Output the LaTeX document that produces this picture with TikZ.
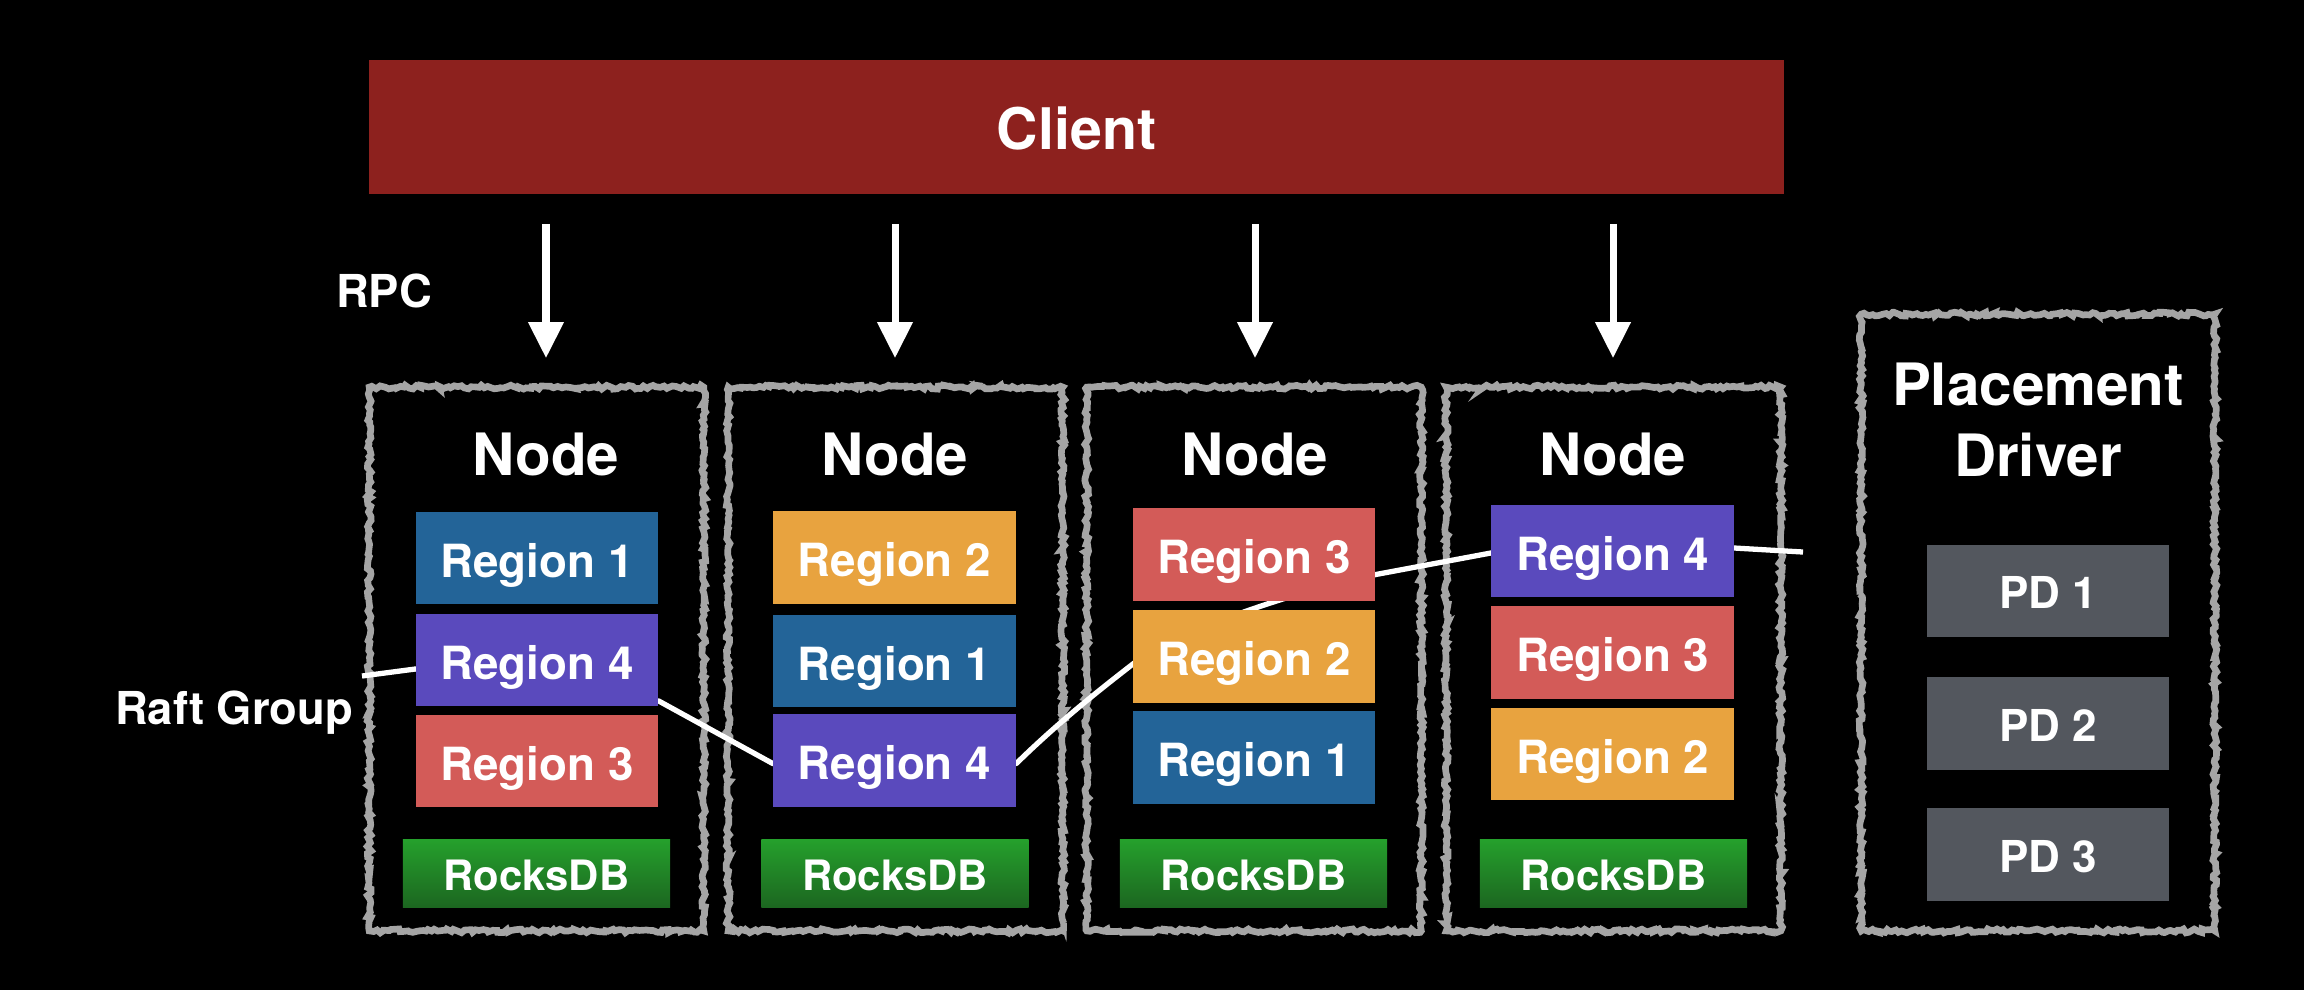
\documentclass[tikz,border=0pt]{standalone}
\usepackage{fontspec}
\setmainfont{TeX Gyre Heros}
\usetikzlibrary{arrows.meta,calc,decorations.pathmorphing}
\definecolor{clientred}{HTML}{8D211E}
\definecolor{rblue}{HTML}{236498}
\definecolor{rpurple}{HTML}{5A4ABD}
\definecolor{rred}{HTML}{D35B58}
\definecolor{rorange}{HTML}{E8A33F}
\definecolor{rgtop}{HTML}{25A02C}
\definecolor{rgbot}{HTML}{1C6620}
\definecolor{pdgray}{HTML}{53575E}
\definecolor{bordergray}{HTML}{A5A5A5}
\pgfdeclarelayer{background}
\pgfdeclarelayer{lines}
\pgfsetlayers{background,lines,main}
\tikzset{
  box/.style={inner sep=0pt, text=white, text height=0.38cm, text depth=0pt,
    font=\bfseries\fontsize{13}{15}\selectfont, minimum width=2.42cm, minimum height=0.92cm},
  reg1/.style={box, fill=rblue},
  reg2/.style={box, fill=rorange},
  reg3/.style={box, fill=rred},
  reg4/.style={box, fill=rpurple},
  rocks/.style={box, minimum width=2.67cm, minimum height=0.68cm, top color=rgtop, bottom color=rgbot,
    text height=0.34cm, font=\bfseries\fontsize{11.9}{14}\selectfont},
  pdbox/.style={box, fill=pdgray, text height=0.35cm, font=\bfseries\fontsize{12.5}{14}\selectfont},
  clientbox/.style={box, fill=clientred, minimum width=14.15cm, minimum height=1.34cm,
    text height=0.45cm, font=\bfseries\fontsize{16.3}{19}\selectfont},
  nframe/.style={inner sep=0pt, minimum width=3.33cm, minimum height=5.42cm},
  sketch/.style={draw=bordergray, line width=1.9pt, decorate,
    decoration={random steps, segment length=0.9pt, amplitude=0.55pt}},
  ttl/.style={text=white, font=\bfseries\fontsize{16.6}{19.9}\selectfont, anchor=base, inner sep=0pt},
  lbl/.style={text=white, font=\bfseries\fontsize{12.9}{15}\selectfont, anchor=base, inner sep=0pt},
  rpcarrow/.style={draw=white, line width=2pt, -{Triangle[width=0.34cm,length=0.36cm]},
    shorten <=0.29cm, shorten >=0.29cm},
  raft/.style={draw=white, line width=1.5pt, line join=round},
}
\pgfmathsetseed{7}
\begin{document}
\begin{tikzpicture}[x=0.01cm,y=-0.01cm]
\useasboundingbox (0,0) rectangle (2304,990);

% client
\node[clientbox] (client) at (1076.5,127) {Client};

% frames
\node[nframe] (b1) at (536.5,659) {};
\node[nframe] (b2) at (895.5,659) {};
\node[nframe] (b3) at (1254,659) {};
\node[nframe] (b4) at (1613.5,659) {};
\node[nframe, minimum width=3.52cm, minimum height=6.15cm] (pdb) at (2038,622.5) {};

% titles
\node[ttl] (t1) at (546,475) {Node};
\node[ttl] (t2) at (895,475) {Node};
\node[ttl] (t3) at (1255,475) {Node};
\node[ttl] (t4) at (1613,475) {Node};
\node[ttl] (tp1) at (2038,405) {Placement};
\node[ttl] (tp2) at (2038,476) {Driver};

% labels
\node[lbl] (rpc) at (384,307) {RPC};
\node[lbl] (raftlbl) at (234,724) {Raft Group};

% regions
\node[reg1] (r11) at (537,558) {Region 1};
\node[reg4] (r14) at (537,660) {Region 4};
\node[reg3] (r13) at (537,761) {Region 3};

\node[reg2] (r22) at (894.5,557.5) {Region 2};
\node[reg1] (r21) at (894.5,661) {Region 1};
\node[reg4] (r24) at (894.5,760.5) {Region 4};

\node[reg3] (r33) at (1254,554.5) {Region 3};
\node[reg2] (r32) at (1254,656.5) {Region 2};
\node[reg1] (r31) at (1254,757.5) {Region 1};

\node[reg4] (r44) at (1612.5,551) {Region 4};
\node[reg3] (r43) at (1612.5,652.5) {Region 3};
\node[reg2] (r42) at (1612.5,754) {Region 2};

% rocksdb
\node[rocks] (db1) at (536.5,873.5) {RocksDB};
\node[rocks] (db2) at (895,873.5) {RocksDB};
\node[rocks] (db3) at (1253.5,873.5) {RocksDB};
\node[rocks] (db4) at (1613.5,873.5) {RocksDB};

% placement driver
\node[pdbox] (pd1) at (2048,591) {PD 1};
\node[pdbox] (pd2) at (2048,723.5) {PD 2};
\node[pdbox] (pd3) at (2048,854.5) {PD 3};

% rpc arrows
\draw[rpcarrow] (client.south -| t1) -- (b1.north -| t1);
\draw[rpcarrow] (client.south -| t2) -- (b2.north -| t2);
\draw[rpcarrow] (client.south -| t3) -- (b3.north -| t3);
\draw[rpcarrow] (client.south -| t4) -- (b4.north -| t4);

% raft group line
\coordinate (rg0) at (362,676);
\coordinate (rgE) at (1803,552);
\coordinate (w1) at ($(r14.west)+(0,9)$);
\coordinate (w3) at ($(r14.east)+(0,41)$);
\coordinate (w4) at ($(r24.west)+(0,3)$);
\coordinate (w6) at ($(r24.east)+(0,3)$);
\coordinate (w7) at ($(r32.west)+(0,8)$);
\coordinate (w9) at ($(r33.east)+(0,20)$);
\coordinate (w10) at ($(r44.west)+(0,2)$);
\coordinate (w12) at ($(r44.east)+(0,-3)$);
\begin{pgfonlayer}{lines}
\draw[raft] (rg0) -- (w1) -- (w3) -- (w4) -- (w6)
  .. controls +(40,-39) and +(-40,31) .. (w7)
  .. controls +(50,-38.5) and +(-50,9) .. (w9)
  -- (w10) -- (w12) -- (rgE);
\end{pgfonlayer}

\begin{pgfonlayer}{background}
\fill[black] (0,0) rectangle (2304,990);
\draw[sketch] (b1.north west) rectangle (b1.south east);
\draw[sketch] (b2.north west) rectangle (b2.south east);
\draw[sketch] (b3.north west) rectangle (b3.south east);
\draw[sketch] (b4.north west) rectangle (b4.south east);
\draw[sketch] (pdb.north west) rectangle (pdb.south east);
\end{pgfonlayer}
\end{tikzpicture}
\end{document}
